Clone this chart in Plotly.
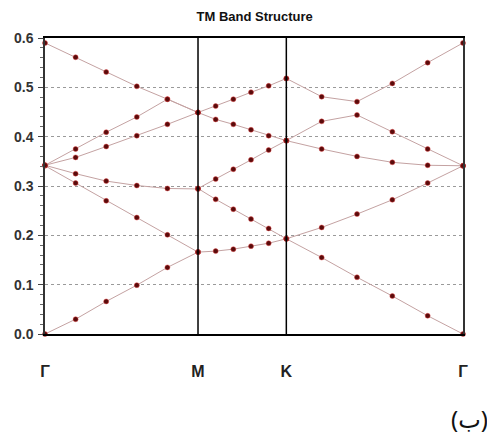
import plotly.graph_objects as go

# High-symmetry path (reciprocal-space distances) and labels
k_nodes = [0.0, 0.5774, 0.9107, 1.5774]
k_labels = ["Γ", "M", "K", "Γ"]
points_per_segment = 6

# Band frequencies (normalized, ωa/2πc) sampled along each segment
gamma_m = [
    [0.000, 0.030, 0.066, 0.099, 0.135, 0.166],
    [0.341, 0.306, 0.270, 0.236, 0.201, 0.166],
    [0.342, 0.325, 0.310, 0.301, 0.295, 0.294],
    [0.342, 0.358, 0.380, 0.402, 0.425, 0.449],
    [0.342, 0.375, 0.409, 0.440, 0.476, 0.449],
    [0.590, 0.561, 0.531, 0.502, 0.476, 0.449],
]
m_k = [
    [0.166, 0.168, 0.172, 0.178, 0.184, 0.193],
    [0.295, 0.273, 0.253, 0.233, 0.214, 0.193],
    [0.295, 0.314, 0.334, 0.353, 0.373, 0.392],
    [0.449, 0.435, 0.425, 0.414, 0.402, 0.392],
    [0.449, 0.462, 0.476, 0.490, 0.503, 0.518],
]
k_gamma = [
    [0.193, 0.155, 0.115, 0.077, 0.037, 0.000],
    [0.193, 0.216, 0.243, 0.272, 0.306, 0.341],
    [0.392, 0.375, 0.360, 0.348, 0.342, 0.341],
    [0.392, 0.431, 0.444, 0.410, 0.375, 0.341],
    [0.518, 0.481, 0.471, 0.508, 0.550, 0.590],
]
y_ticks = [0.0, 0.1, 0.2, 0.3, 0.4, 0.5, 0.6]

segments = [gamma_m, m_k, k_gamma]

fig = go.Figure()

line_color = "#c4a2a2"
for s, seg in enumerate(segments):
    k0, k1 = k_nodes[s], k_nodes[s + 1]
    ks = [k0 + (k1 - k0) * i / (points_per_segment - 1) for i in range(points_per_segment)]
    for band in seg:
        fig.add_trace(go.Scatter(
            x=ks, y=band, mode="lines+markers",
            line=dict(color=line_color, width=1),
            marker=dict(size=5, color="#5a0b0b",
                        line=dict(color="rgba(235,70,70,0.45)", width=1)),
            cliponaxis=False, showlegend=False, hoverinfo="x+y",
        ))

for kx in k_nodes[1:3]:
    fig.add_shape(type="line", x0=kx, x1=kx, y0=0, y1=1, xref="x", yref="paper",
                  line=dict(color="black", width=1.5), layer="above")

fig.update_layout(
    width=487, height=436,
    margin=dict(l=45, r=24, t=38, b=102),
    paper_bgcolor="white", plot_bgcolor="white",
    title=dict(text="<b>TM Band Structure</b>", x=0.523, xanchor="center",
               y=0.963, yanchor="middle",
               font=dict(family="Liberation Sans, Arial", size=13, color="#111")),
    font=dict(family="Liberation Sans, Arial", color="#222"),
    xaxis=dict(
        range=[k_nodes[0], k_nodes[-1]],
        tickmode="array", tickvals=k_nodes,
        ticktext=["<b>%s</b>" % t for t in k_labels],
        tickfont=dict(size=16, color="#222"),
        ticks="", ticklabelstandoff=22,
        showgrid=False, zeroline=False,
        showline=True, mirror=True, linecolor="black", linewidth=1.5,
    ),
    yaxis=dict(
        range=[0, 0.6],
        tickmode="array", tickvals=y_ticks,
        ticktext=["<b>%.1f</b>" % v for v in y_ticks],
        tickfont=dict(size=14, color="#333"),
        ticks="outside", ticklen=5, tickcolor="#444", tickwidth=1,
        ticklabelstandoff=2,
        minor=dict(dtick=0.02, ticks="outside", ticklen=3, tickcolor="#666", showgrid=False),
        showgrid=True, gridcolor="#9a9a9a", griddash="dot", gridwidth=1,
        zeroline=False,
        showline=True, mirror=True, linecolor="#333", linewidth=1.5,
    ),
    annotations=[dict(
        text="(ب)", xref="paper", yref="paper", x=1.065, y=-0.285,
        xanchor="right", yanchor="middle", showarrow=False,
        font=dict(family="Noto Sans, DejaVu Sans", size=24, color="#111"),
    )],
)

fig.write_html("out.html")
